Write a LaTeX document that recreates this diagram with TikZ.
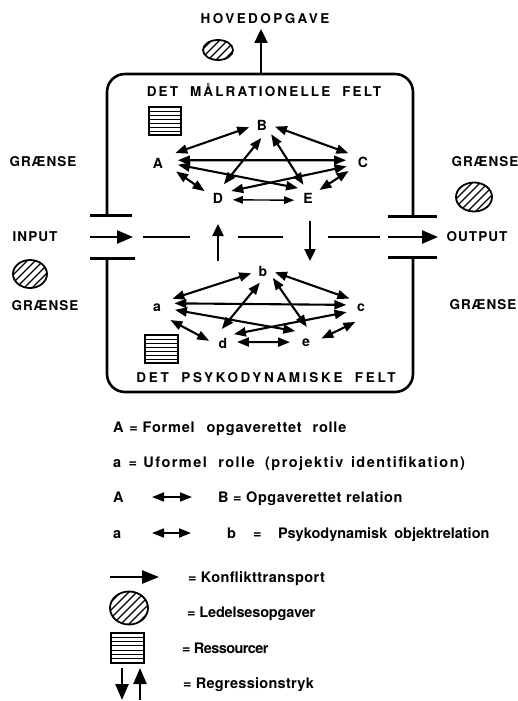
\documentclass[tikz,border=0pt]{standalone}
\usepackage{fontspec}
\setmainfont{TeX Gyre Heros}
\usetikzlibrary{arrows.meta}

\tikzset{
  every node/.style={inner sep=0pt, outer sep=0pt},
  titletext/.style={font=\fontsize{13.5}{15}\selectfont\bfseries\addfontfeatures{LetterSpace=#1}},
  sidelabel/.style={font=\fontsize{13.5}{16}\selectfont\bfseries\addfontfeatures{LetterSpace=8}},
  vtx/.style={circle, minimum size=#1, font=\fontsize{14}{16}\selectfont\bfseries},
  legendtext/.style={font=\fontsize{14.5}{17}\selectfont\bfseries\addfontfeatures{LetterSpace=#1}, anchor=base west},
  legendtext/.default=0,
  rel/.style={line width=2.1pt, {Triangle[length=12pt,width=9pt]}-{Triangle[length=12pt,width=9pt]}},
  thinrel/.style={line width=1.4pt, {Triangle[length=10pt,width=7.5pt]}-{Triangle[length=10pt,width=7.5pt]}},
  boxline/.style={line width=2.6pt},
  barline/.style={line width=3pt},
  dashpart/.style={line width=2.6pt},
  bigarrow/.style={line width=2.6pt, -{Triangle[length=16pt,width=13pt]}},
  midarrow/.style={line width=2.4pt, -{Triangle[length=12pt,width=11pt]}},
  legrel/.style={line width=1.7pt, {Triangle[length=12pt,width=9pt]}-{Triangle[length=12pt,width=9pt]}},
  pics/hatchball/.style 2 args={code={
    \begin{scope}
      \clip (0,0) ellipse [x radius=#1, y radius=#2];
      \foreach \k in {-5,...,5} \draw[line width=1.1pt] (\k*8-40,40) -- (\k*8+40,-40);
    \end{scope}
    \draw[line width=1.8pt] (0,0) ellipse [x radius=#1, y radius=#2];
  }},
  pics/stripebox/.style 2 args={code={
    \foreach \i in {1,...,6} \draw[line width=1pt] (0,\i*#2/7) -- (#1,\i*#2/7);
    \draw[line width=1.4pt] (0,0) rectangle (#1,#2);
  }}
}

\begin{document}
\begin{tikzpicture}[x=1pt,y=-1pt]
\useasboundingbox (0,0) rectangle (518,701);

% titles
\node[titletext=18] (hoved) at (265,19) {HOVEDOPGAVE};
\pic at (218,50) {hatchball={15}{10}};
\coordinate (topmid) at (261,74);
\coordinate (toptip) at (261,29);
\draw[line width=2.4pt, -{Triangle[length=14pt,width=13pt]}] (topmid) -- (toptip);

% frame
\draw[boxline, rounded corners=18pt] (107,215) -- (107,74) -- (413,74) -- (413,216);
\draw[boxline, rounded corners=18pt] (107,258) -- (107,392) -- (413,392) -- (413,257);
\draw[barline] (90,215) -- (132,215);
\draw[barline] (90,258) -- (135,258);
\draw[barline] (388,216) -- (437,216);
\draw[barline] (388,257) -- (437,257);

\node[titletext=16] (malr) at (264,90) {DET\hspace{6pt} MÅLRATIONELLE\hspace{6pt} FELT};
\node[titletext=20] (psyk) at (266,378) {DET\hspace{6pt} PSYKODYNAMISKE\hspace{6pt} FELT};

\pic at (149,107) {stripebox={32}{28}};
\pic at (145,335) {stripebox={33}{28}};

% side labels
\node[sidelabel] (gr1) at (43,162) {GRÆNSE};
\node[sidelabel] (gr2) at (45,306) {GRÆNSE};
\node[sidelabel] (gr3) at (485,162) {GRÆNSE};
\node[sidelabel] (gr4) at (483,305) {GRÆNSE};
\node[sidelabel] (inp) at (35,237) {INPUT};
\node[sidelabel] (outp) at (477,237) {OUTPUT};
\pic at (30,274) {hatchball={17}{14}};
\pic at (474,197) {hatchball={18}{14.5}};

% middle flow
\coordinate (in1) at (90,237);
\coordinate (in2) at (133,237);
\coordinate (ds1a) at (143,237);
\coordinate (ds1b) at (190,237);
\coordinate (ds2a) at (238,237);
\coordinate (ds2b) at (283,237);
\coordinate (ds3a) at (328,237);
\coordinate (ds3b) at (380,237);
\coordinate (out1) at (388,237);
\coordinate (out2) at (438,237);
\coordinate (up1) at (218,261);
\coordinate (up2) at (218,224);
\coordinate (dn1) at (310,221);
\coordinate (dn2) at (310,261);
\draw[bigarrow] (in1) -- (in2);
\draw[bigarrow] (out1) -- (out2);
\draw[dashpart] (ds1a) -- (ds1b);
\draw[dashpart] (ds2a) -- (ds2b);
\draw[dashpart] (ds3a) -- (ds3b);
\draw[midarrow] (up1) -- (up2);
\draw[midarrow] (dn1) -- (dn2);

% upper graph
\node[vtx=40pt] (A) at (158,163) {A};
\node[vtx=26pt] (B) at (262,125) {B};
\node[vtx=34pt] (C) at (363,162) {C};
\node[vtx=30pt] (D) at (218,198) {D};
\node[vtx=28pt] (E) at (308,198) {E};
\draw[rel] (A.30) -- (B.190);
\draw[rel] (B.-7) -- (C.149);
\draw[rel] (A.8) -- (C.174);
\draw[rel] (A.-5) -- (E.135);
\draw[rel] (C.195) -- (D.28);
\draw[rel] (B.-93) -- (D.67);
\draw[rel] (B.-45) -- (E.109);
\draw[rel] (A.-25) -- (D.153);
\draw[rel] (C.212) -- (E.35);
\draw[thinrel] (D.-7) -- (E.189);

% lower graph
\node[vtx=36pt] (a) at (157,308) {a};
\node[vtx=24pt] (b) at (263,271) {b};
\node[vtx=30pt] (c) at (361,308) {c};
\node[vtx=28pt] (d) at (223,343) {d};
\node[vtx=32pt] (e) at (306,343) {e};
\draw[rel] (a.31) -- (b.191);
\draw[rel] (b.-6) -- (c.141);
\draw[rel] (a.15) -- (c.168);
\draw[rel] (a.-6) -- (e.132);
\draw[rel] (c.196) -- (d.39);
\draw[rel] (b.-105) -- (d.95);
\draw[rel] (b.-35) -- (e.87);
\draw[rel] (a.-42) -- (d.171);
\draw[rel] (c.248) -- (e.16);
\draw[rel] (d.4) -- (e.177);

% legend
\node[legendtext=5.5] (l1) at (113,432) {A \hspace{1pt}= Formel\hspace{7pt} opgaverettet\hspace{6pt} rolle};
\node[legendtext=10] (l2) at (113,467) {a \hspace{2pt}= \hspace{1pt}Uformel\hspace{6pt} rolle\hspace{5pt} (projektiv\hspace{2pt} identifikation)};
\node[legendtext=2] (l3A) at (113,502) {A};
\coordinate (r3a) at (152,497);
\coordinate (r3b) at (192,497);
\draw[legrel] (r3a) -- (r3b);
\node[legendtext=4] (l3B) at (218,502) {B = Opgaverettet relation};
\node[legendtext] (l4a) at (113,538) {a};
\coordinate (r4a) at (152,533);
\coordinate (r4b) at (191,533);
\draw[legrel] (r4a) -- (r4b);
\node[legendtext] (l4b) at (227,538) {b};
\node[legendtext] (l4eq) at (253,538) {=};
\node[legendtext] (l4t) at (278,538) {Psykodynamisk\hspace{3pt} objektrelation};
\coordinate (r5a) at (110,577);
\coordinate (r5b) at (159,577);
\draw[line width=2.6pt, -{Triangle[length=17pt,width=13pt]}] (r5a) -- (r5b);
\node[legendtext=3] (l5) at (188,582) {= Konflikttransport};
\pic at (129,608) {hatchball={19}{16.5}};
\node[legendtext=-1] (l6) at (187,617) {= Ledelsesopgaver};
\pic at (111,633) {stripebox={33}{30}};
\node[legendtext=-4] (l7) at (182,653) {= Ressourcer};
\coordinate (rg1a) at (122,668);
\coordinate (rg1b) at (122,700);
\coordinate (rg2a) at (140,700);
\coordinate (rg2b) at (140,668);
\draw[line width=2.5pt, -{Triangle[length=16pt,width=13pt]}] (rg1a) -- (rg1b);
\draw[line width=2.5pt, -{Triangle[length=16pt,width=13pt]}] (rg2a) -- (rg2b);
\node[legendtext=2] (l8) at (183,688) {= Regressionstryk};
\end{tikzpicture}
\end{document}
